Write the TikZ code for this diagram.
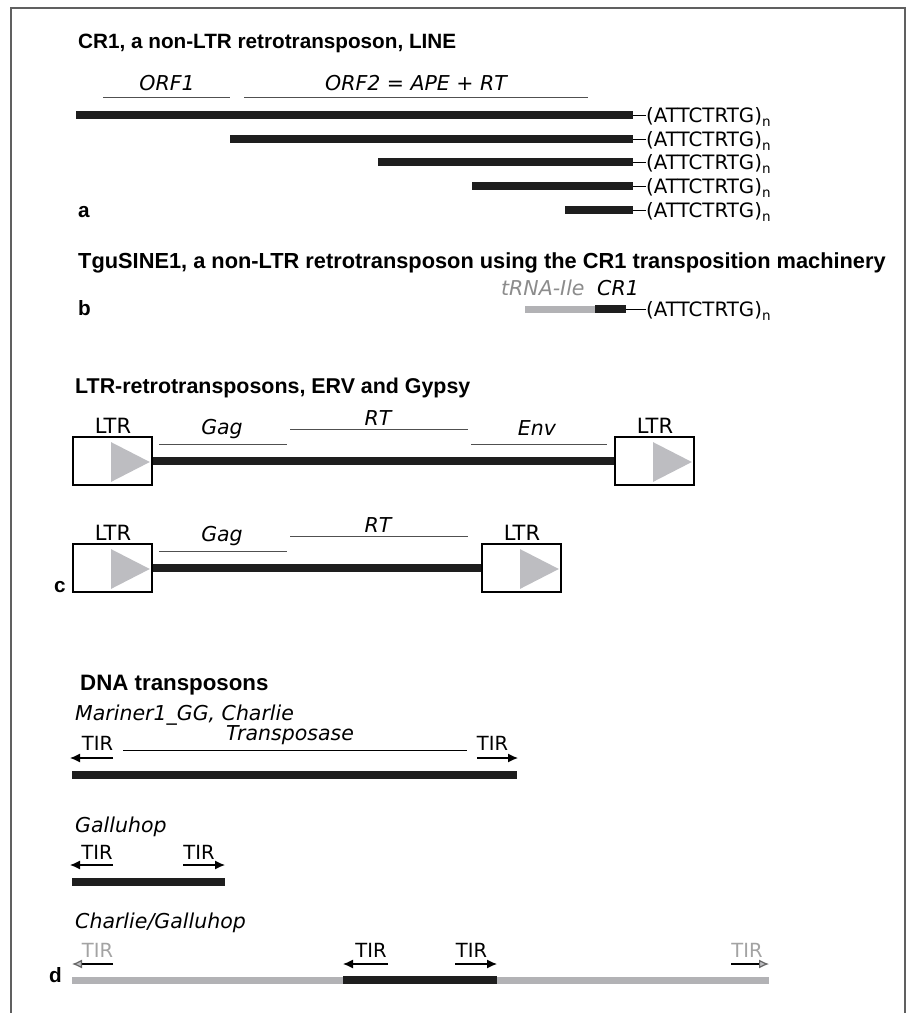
\documentclass[tikz,border=0pt]{standalone}
\usepackage{fontspec}
\setmainfont{DejaVu Sans}
\newfontfamily\hdfont{Liberation Sans}
\usetikzlibrary{arrows.meta,calc}
\definecolor{barblack}{HTML}{1E1E1E}
\definecolor{bargray}{HTML}{B2B2B5}
\definecolor{trigray}{HTML}{BDBDC1}
\definecolor{linegray}{HTML}{505050}
\definecolor{txtgray}{HTML}{8C8C8C}
\definecolor{framegray}{HTML}{606060}
\newcommand\rptxt{(ATTCTRTG)\raisebox{-4pt}{\fontsize{13.5}{13.5}\selectfont n}}
\newcommand\hdsize[1]{\hdfont\bfseries\fontsize{#1}{#1}\selectfont}
\begin{document}
\begin{tikzpicture}[x=1pt,y=-1pt,
  hd/.style={font=\hdsize{20.7},inner sep=0,anchor=base west},
  lbl/.style={font=\fontsize{19.5}{23}\selectfont,inner sep=0,anchor=base},
  ltrlbl/.style={font=\fontsize{21}{24}\selectfont,inner sep=0,anchor=base},
  itl/.style={font=\itshape\fontsize{20.5}{24}\selectfont,inner sep=0,anchor=base},
  rep/.style={font=\fontsize{19.8}{23}\selectfont,inner sep=0,anchor=base west},
  bar/.style={line width=7.5pt,draw=barblack},
  graybar/.style={line width=7pt,draw=bargray},
  orf/.style={line width=0.9pt,draw=linegray},
  thinline/.style={line width=1pt,draw=black},
  ltrbox/.style={draw=black,line width=1.6pt,fill=white,minimum width=79pt,minimum height=48pt,inner sep=0},
  tri/.style={fill=trigray,draw=none},
  tir/.style={line width=1.2pt,draw=black,-{Latex[length=10pt,width=9pt]}},
  ghosttir/.style={line width=1.2pt,draw=black,-{Latex[length=10pt,width=9pt,fill=trigray,color=gray!80!black]}},
]
\useasboundingbox (0,0) rectangle (912,1013);
% frame
\draw[line width=2pt,draw=framegray] (11,1013) -- (11,8) -- (905,8) -- (905,1013);

% ---------------- a ----------------
\node[hd] (ta) at (78,48) {CR1, a non-LTR retrotransposon, LINE};
\node[itl] (orf1) at (167,90) {ORF1};
\node[itl] (orf2) at (416,90) {ORF2 = APE + RT};
\coordinate (o1s) at (103,97); \coordinate (o1e) at (230,97);
\coordinate (o2s) at (244,97); \coordinate (o2e) at (588,97);
\draw[orf] (o1s) -- (o1e);
\draw[orf] (o2s) -- (o2e);
\foreach \i/\x/\y in {1/76/115,2/230/139,3/378/162,4/472/186,5/565/210}{
  \coordinate (a\i s) at (\x,\y);
  \coordinate (a\i e) at (633,\y);
  \node[rep] (r\i) at (646,\y+7) {\rptxt};
  \draw[bar] (a\i s) -- (a\i e);
  \draw[thinline] (a\i e) -- (a\i e -| r\i.west);
}
\node[hd] (la) at (78,217) {a};

% ---------------- b ----------------
\node[hd,font=\hdsize{21.8}] (tb) at (78,268) {TguSINE1, a non-LTR retrotransposon using the CR1 transposition machinery};
\node[hd] (lb) at (78,315) {b};
\node[itl,anchor=base west,text=txtgray] (trna) at (501,295) {tRNA-Ile};
\node[itl,anchor=base west] (cr1) at (597,295) {CR1};
\coordinate (bs) at (525,309); \coordinate (bm) at (595,309); \coordinate (be) at (626,309);
\node[rep] (rb) at (646,316) {\rptxt};
\draw[graybar] (bs) -- (bm);
\draw[bar] (bm) -- (be);
\draw[thinline] (be) -- (be -| rb.west);

% ---------------- c ----------------
\node[hd,font=\hdsize{21.4}] (tc) at (75,393) {LTR-retrotransposons, ERV and Gypsy};
% row 1
\node[ltrbox] (L1) at (112.5,461) {};
\node[ltrbox] (L2) at (654.5,461) {};
\draw[bar] (L1.east) -- (L2.west);
\foreach \n in {L1,L2}{
  \fill[tri] ($(\n.north west)+(39,6)$) -- ($(\n.south west)+(39,-4)$) -- ($(\n.east)+(-3,1)$) -- cycle;
}
\node[ltrlbl] (l1t) at (113,433) {LTR};
\node[ltrlbl] (l2t) at (655,433) {LTR};
\coordinate (g1s) at (159,444); \coordinate (g1e) at (287,444);
\coordinate (rt1s) at (290,429); \coordinate (rt1e) at (468,429);
\coordinate (e1s) at (471,444); \coordinate (e1e) at (607,444);
\draw[orf] (g1s) -- (g1e);
\draw[orf] (rt1s) -- (rt1e);
\draw[orf] (e1s) -- (e1e);
\node[itl] (gag1) at (222,434) {Gag};
\node[itl] (rt1) at (378,425) {RT};
\node[itl] (env1) at (537,435) {Env};
% row 2
\node[ltrbox] (L3) at (112.5,568) {};
\node[ltrbox] (L4) at (521.5,568) {};
\draw[bar] (L3.east) -- (L4.west);
\foreach \n in {L3,L4}{
  \fill[tri] ($(\n.north west)+(39,6)$) -- ($(\n.south west)+(39,-4)$) -- ($(\n.east)+(-3,1)$) -- cycle;
}
\node[ltrlbl] (l3t) at (113,540) {LTR};
\node[ltrlbl] (l4t) at (522,540) {LTR};
\coordinate (g2s) at (159,551); \coordinate (g2e) at (287,551);
\coordinate (rt2s) at (290,536); \coordinate (rt2e) at (468,536);
\draw[orf] (g2s) -- (g2e);
\draw[orf] (rt2s) -- (rt2e);
\node[itl] (gag2) at (222,541) {Gag};
\node[itl] (rt2) at (378,532) {RT};
\node[hd] (lc) at (54,592) {c};

% ---------------- d ----------------
\node[hd,font=\hdsize{22.3}] (td) at (80,690) {DNA transposons};
\node[itl,anchor=base west] (mar) at (75,720) {Mariner1\_GG, Charlie};
\node[itl] (tp) at (290,740) {Transposase};
\coordinate (tps) at (123,750); \coordinate (tpe) at (467,750);
\draw[thinline] (tps) -- (tpe);
\node[lbl] (tir1) at (97.5,750) {TIR};
\node[lbl] (tir2) at (492.5,750) {TIR};
\coordinate (ar1s) at (113,758); \coordinate (ar1e) at (70,758);
\coordinate (ar2s) at (477,758); \coordinate (ar2e) at (518,758);
\draw[tir] (ar1s) -- (ar1e);
\draw[tir] (ar2s) -- (ar2e);
\coordinate (d1s) at (72,775); \coordinate (d1e) at (517,775);
\draw[bar] (d1s) -- (d1e);

\node[itl,anchor=base west] (gal) at (75,832) {Galluhop};
\node[lbl] (tir3) at (97,859) {TIR};
\node[lbl] (tir4) at (199,859) {TIR};
\coordinate (ar3s) at (113,865); \coordinate (ar3e) at (70,865);
\coordinate (ar4s) at (183,865); \coordinate (ar4e) at (225,865);
\draw[tir] (ar3s) -- (ar3e);
\draw[tir] (ar4s) -- (ar4e);
\coordinate (d2s) at (72,882); \coordinate (d2e) at (225,882);
\draw[bar] (d2s) -- (d2e);

\node[itl,anchor=base west] (cg) at (75,928) {Charlie/Galluhop};
\coordinate (d3s) at (72,980); \coordinate (d3a) at (343,980);
\coordinate (d3b) at (497,980); \coordinate (d3e) at (769,980);
\draw[graybar] (d3s) -- (d3e);
\draw[bar] (d3a) -- (d3b);
\node[lbl,text=txtgray!80] (tir5) at (97.5,957) {TIR};
\node[lbl] (tir6) at (371,957) {TIR};
\node[lbl] (tir7) at (471.5,957) {TIR};
\node[lbl,text=txtgray!80] (tir8) at (747,957) {TIR};
\coordinate (ar5s) at (113,964); \coordinate (ar5e) at (72,964);
\coordinate (ar6s) at (388,964); \coordinate (ar6e) at (343,964);
\coordinate (ar7s) at (455,964); \coordinate (ar7e) at (497,964);
\coordinate (ar8s) at (731,964); \coordinate (ar8e) at (769,964);
\draw[ghosttir] (ar5s) -- (ar5e);
\draw[tir] (ar6s) -- (ar6e);
\draw[tir] (ar7s) -- (ar7e);
\draw[ghosttir] (ar8s) -- (ar8e);
\node[hd] (ld) at (49,982) {d};
\end{tikzpicture}
\end{document}
